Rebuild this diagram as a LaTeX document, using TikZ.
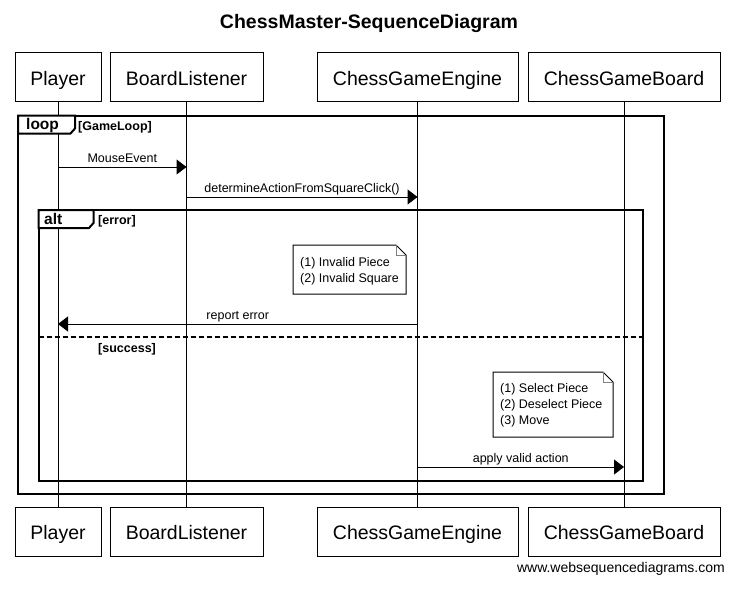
\documentclass[tikz,border=0pt]{standalone}
\usepackage{fontspec}
\setmainfont{Liberation Sans}
\usetikzlibrary{arrows.meta}

\begin{document}
\begin{tikzpicture}[x=1pt,y=-1pt,
  actor/.style={draw,line width=1pt,minimum height=49pt,inner sep=0pt,
    text height=16pt,text depth=0pt,font=\fontsize{19.5}{19.5}\selectfont},
  life/.style={line width=1pt},
  msg/.style={line width=1pt,-{Triangle[length=10pt,width=15pt]}},
  lbl/.style={above=4pt,inner sep=0pt,text depth=0pt,font=\fontsize{12.5}{12.5}\selectfont},
  frame/.style={line width=2pt},
  tab/.style={draw,fill=white,line width=2pt,line join=miter},
  kind/.style={anchor=base west,inner sep=0pt,font=\fontsize{15.5}{15.5}\bfseries\selectfont},
  guard/.style={anchor=base west,inner sep=0pt,font=\fontsize{12.5}{12.5}\bfseries\selectfont},
  notebox/.style={draw,fill=white,line width=1pt},
  notetext/.style={anchor=west,align=left,inner sep=0pt,font=\fontsize{12.5}{16}\selectfont}]

\fill[white] (0,0) rectangle (735,591);
\useasboundingbox (0,0) rectangle (735,591);

\node[font=\fontsize{19.5}{19.5}\bfseries\selectfont,anchor=base] (title) at (369,28.5) {ChessMaster-SequenceDiagram};

% participants
\node[actor,minimum width=86pt] (plTop) at (58,77.5) {Player};
\node[actor,minimum width=153pt] (blTop) at (186.5,77.5) {BoardListener};
\node[actor,minimum width=201pt] (ceTop) at (417.5,77.5) {ChessGameEngine};
\node[actor,minimum width=192pt] (cbTop) at (624,77.5) {ChessGameBoard};
\node[actor,minimum width=86pt] (plBot) at (58,531.5) {Player};
\node[actor,minimum width=153pt] (blBot) at (186.5,531.5) {BoardListener};
\node[actor,minimum width=201pt] (ceBot) at (417.5,531.5) {ChessGameEngine};
\node[actor,minimum width=192pt] (cbBot) at (624,531.5) {ChessGameBoard};
\foreach \p in {pl,bl,ce,cb}
  \draw[life] (\p Top) -- (\p Bot);

% loop frame
\draw[frame] (18,115.5) rectangle (664,494);
\draw[tab] (18,115.5) -- (75,115.5) -- (75,128.5) -- (70.5,133.5) -- (18,133.5) -- cycle;
\node[kind] (loopKw) at (26,129.5) {loop};
\node[guard] (loopGd) at (78,130) {[GameLoop]};

\draw[msg] (plTop |- 0,167) -- node[lbl] (mouseLbl) {MouseEvent} (blTop |- 0,167);
\draw[msg] (blTop |- 0,197) -- node[lbl] (clickLbl) {determineActionFromSquareClick()} (ceTop |- 0,197);

% alt frame
\draw[frame] (38.5,210) rectangle (643,481);
\draw[tab] (38.5,210) -- (93.5,210) -- (93.5,223) -- (89,228) -- (38.5,228) -- cycle;
\node[kind] (altKw) at (44,224) {alt};
\node[guard] (errGd) at (98,224) {[error]};

\draw[notebox] (293,245) -- (396,245) -- (406,255) -- (406,294) -- (293,294) -- cycle;
\draw[gray,line width=0.6pt] (396,245) -- (396,255) -- (406,255);
\node[notetext] (invalidNote) at (300,271) {(1) Invalid Piece\\(2) Invalid Square};

\draw[msg] (ceTop |- 0,324) -- node[lbl] (errLbl) {report error} (plTop |- 0,324);

\draw[frame,line width=1.6pt,dash pattern=on 5pt off 3pt] (38.5,337) -- (643,337);
\node[guard] (okGd) at (98,352.5) {[success]};

\draw[notebox] (493,372) -- (603,372) -- (613,382) -- (613,437) -- (493,437) -- cycle;
\draw[gray,line width=0.6pt] (603,372) -- (603,382) -- (613,382);
\node[notetext] (actionNote) at (500,405) {(1) Select Piece\\(2) Deselect Piece\\(3) Move};

\draw[msg] (ceTop |- 0,467) -- node[lbl] (applyLbl) {apply valid action} (cbTop |- 0,467);

\node[anchor=base east,inner sep=0pt,font=\fontsize{14}{14}\selectfont] (credit) at (725,572) {www.websequencediagrams.com};
\end{tikzpicture}
\end{document}
